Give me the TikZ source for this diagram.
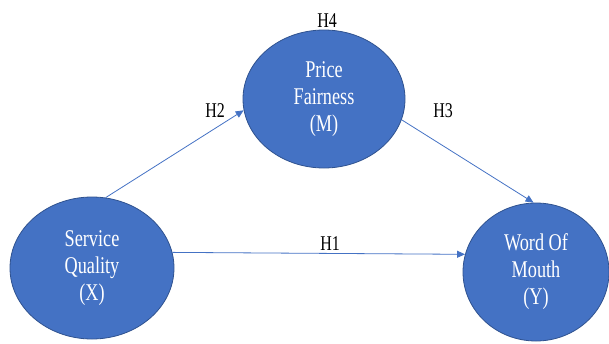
\documentclass[tikz,border=0pt]{standalone}
\usepackage{fontspec}
\setmainfont{Liberation Serif}[FakeStretch=0.76]
\usepackage{tikz}
\usetikzlibrary{arrows.meta, shapes.geometric}
\definecolor{offblue}{HTML}{4472C4}
\definecolor{offedge}{HTML}{2F528F}
\tikzset{var/.style={ellipse, draw=offedge, fill=offblue, line width=0.8pt, inner sep=0pt,
  text=white, align=center, font=\fontsize{24}{27}\selectfont},
  path/.style={draw=offblue, line width=0.8pt, -{Triangle[length=8pt,width=7pt]}},
  hlab/.style={font=\fontsize{21}{24}\selectfont}}

\begin{document}
\begin{tikzpicture}[x=1pt, y=-1pt]
\useasboundingbox (0,0) rectangle (609,343);
%constructs
\node[var, minimum width=162, minimum height=138] (pf) at (324,99) {Price\\Fairness\\(M)};
\node[var, minimum width=164, minimum height=142] (sq) at (92,268) {Service\\Quality\\(X)};
\node[var, minimum width=146, minimum height=138] (wom) at (536,272) {Word Of\\Mouth\\(Y)};
%hypotheses
\draw[path] (sq.79) -- (pf.188);
\draw[path] (pf.345) -- (wom.92);
\draw[path] (sq.11) -- (wom.166);
\node[hlab] (h1) at (330,244) {H1};
\node[hlab] (h2) at (215,111) {H2};
\node[hlab] (h3) at (443,111) {H3};
\node[hlab] (h4) at (327,21) {H4};
\end{tikzpicture}
\end{document}
